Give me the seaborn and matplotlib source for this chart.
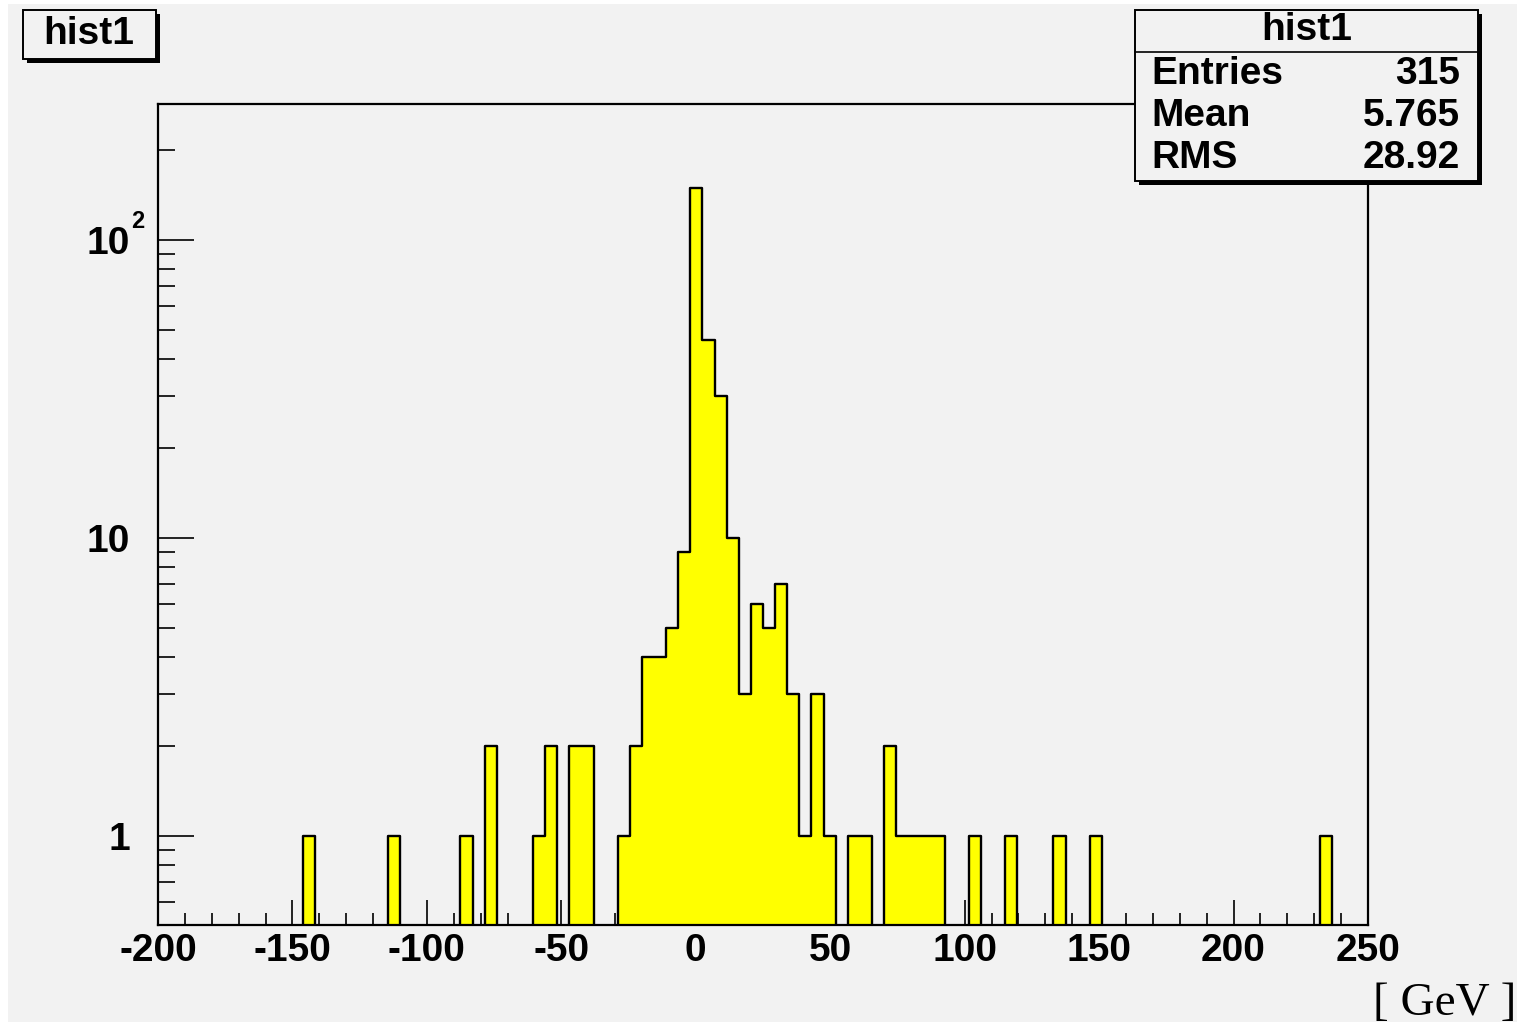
import numpy as np
import pandas as pd
import matplotlib
matplotlib.use("Agg")
import matplotlib.pyplot as plt
from matplotlib.patches import Rectangle
from matplotlib.lines import Line2D
from matplotlib.ticker import MultipleLocator, LogLocator, FixedLocator, NullFormatter
import seaborn as sns

# ---------------- data ----------------
x_min, x_max, n_bins = -200.0, 250.0, 100
# non-empty bins: index -> count
bin_index = [12, 19, 25, 27, 31, 32, 34, 35,
             38, 39, 40, 41, 42, 43, 44, 45, 46, 47,
             48, 49, 50, 51, 52, 53, 54, 55,
             57, 58, 60, 61, 62, 63, 64, 67, 70, 74, 77, 96]
bin_count = [1, 1, 1, 2, 1, 2, 2, 2,
             1, 2, 4, 4, 5, 9, 150, 46, 30, 10,
             3, 6, 5, 7, 3, 1, 3, 1,
             1, 1, 2, 1, 1, 1, 1, 1, 1, 1, 1, 1]
x_ticks_major = [-200, -150, -100, -50, 0, 50, 100, 150, 200, 250]
y_tick_values = [1, 10, 100]
y_tick_labels = ["1", "10", "10"]
y_top_exponent = "2"
stats_names = ["Entries", "Mean", "RMS"]
stats_values = ["315", "5.765", "28.92"]
hist_name = "hist1"
x_unit = "[ GeV ]"

# ---------------- build table ----------------
edges = np.linspace(x_min, x_max, n_bins + 1)
width = edges[1] - edges[0]
centers = edges[:-1] + width / 2
counts = np.zeros(n_bins)
for i, c in zip(bin_index, bin_count):
    counts[i] = c
df = pd.DataFrame({"x": centers, "w": counts})

# ---------------- figure ----------------
W, H = 1522, 1025
sns.set_theme(style="white")
plt.rcParams["font.family"] = ["Liberation Sans", "DejaVu Sans"]
plt.rcParams["text.color"] = "black"
plt.rcParams["axes.labelcolor"] = "black"
plt.rcParams["xtick.color"] = "black"
plt.rcParams["ytick.color"] = "black"

BG = "#f2f2f2"
fig = plt.figure(figsize=(W / 100, H / 100), dpi=100, facecolor="white")

def fx(px):
    return px / W

def fy(py):
    return 1 - py / H

# canvas gray area
fig.add_artist(Rectangle((fx(8), fy(1022)), fx(1517) - fx(8), fy(4) - fy(1022),
                         transform=fig.transFigure, facecolor=BG, edgecolor="none", zorder=0))

ax = fig.add_axes([fx(158), fy(925), fx(1368) - fx(158), fy(104) - fy(925)])
ax.set_facecolor(BG)
ax.set_yscale("log")

sns.histplot(data=df, x="x", weights="w", bins=n_bins, binrange=(x_min, x_max),
             element="step", fill=True,
             color="#ffff00", alpha=1.0, linewidth=1.7, ax=ax)
# pure yellow face, black outline
for coll in ax.collections:
    coll.set_facecolor("#ffff00")
    coll.set_edgecolor("black")
    coll.set_linewidth(1.7)
    coll.set_alpha(1.0)

ax.set_xlim(x_min, x_max)
ax.set_ylim(0.5025, 286)
ax.set_xlabel("")
ax.set_ylabel("")

# ticks
ax.xaxis.set_major_locator(FixedLocator(x_ticks_major))
ax.xaxis.set_minor_locator(MultipleLocator(10))
ax.set_xticklabels([str(v) for v in x_ticks_major])
ax.yaxis.set_major_locator(FixedLocator(y_tick_values))
ax.set_yticklabels(y_tick_labels)
ax.yaxis.set_minor_locator(LogLocator(base=10, subs=np.arange(2, 10) * 1.0, numticks=20))
ax.yaxis.set_minor_formatter(NullFormatter())

ax.tick_params(axis="x", which="major", direction="in", length=18, width=1.2,
               pad=6, labelsize=28, bottom=True, top=False, color="black")
ax.tick_params(axis="x", which="minor", direction="in", length=8.5, width=1.2,
               bottom=True, top=False, color="black")
ax.tick_params(axis="y", which="major", direction="in", length=26, width=1.2,
               pad=20, labelsize=28, left=True, right=False, color="black")
ax.tick_params(axis="y", which="minor", direction="in", length=12.5, width=1.2,
               left=True, right=False, color="black")
for lab in ax.get_xticklabels() + ax.get_yticklabels():
    lab.set_fontweight("bold")
    lab.set_color("black")

# exponent of the 10^2 label
fig.text(fx(138), fy(221), y_top_exponent, ha="center", va="center", fontsize=17,
         fontweight="bold", color="black", zorder=7)

for sp in ax.spines.values():
    sp.set_visible(True)
    sp.set_color("black")
    sp.set_linewidth(1.6)

# ---------------- boxes ----------------
def box(x0, y0, x1, y1, shadow=4):
    fig.add_artist(Rectangle((fx(x0 + shadow), fy(y1 + shadow)), fx(x1) - fx(x0), fy(y0) - fy(y1),
                             transform=fig.transFigure, facecolor="black", edgecolor="none", zorder=5))
    fig.add_artist(Rectangle((fx(x0), fy(y1)), fx(x1) - fx(x0), fy(y0) - fy(y1),
                             transform=fig.transFigure, facecolor=BG, edgecolor="black",
                             linewidth=1.4, zorder=6))

box(23, 10, 156, 59)
fig.text(fx(89), fy(34), hist_name, ha="center", va="center", fontsize=28,
         fontweight="bold", color="black", zorder=7)

box(1135, 10, 1478, 181)
fig.add_artist(Line2D([fx(1135), fx(1478)], [fy(52), fy(52)], transform=fig.transFigure,
                      color="black", linewidth=1.2, zorder=7))
fig.text(fx(1307), fy(30), hist_name, ha="center", va="center", fontsize=28,
         fontweight="bold", color="black", zorder=7)
row_y = [74, 116, 158]
for name, val, yy in zip(stats_names, stats_values, row_y):
    fig.text(fx(1151), fy(yy), name, ha="left", va="center", fontsize=28,
             fontweight="bold", color="black", zorder=7)
    fig.text(fx(1460), fy(yy), val, ha="right", va="center", fontsize=28,
             fontweight="bold", color="black", zorder=7)

# ---------------- unit label ----------------
fig.text(fx(1516), fy(1015), x_unit, ha="right", va="baseline", fontsize=34,
         color="black", family=["Liberation Serif", "DejaVu Serif"], zorder=7)

fig.savefig("out.png", dpi=100, facecolor="white")
